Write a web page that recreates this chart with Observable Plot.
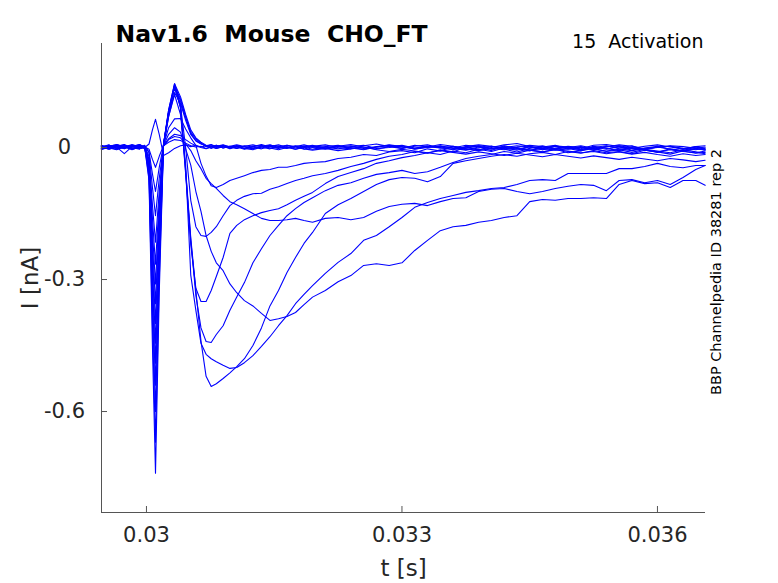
<!DOCTYPE html>
<html><head><meta charset="utf-8">
<script src="https://cdn.jsdelivr.net/npm/d3@7"></script>
<script src="https://cdn.jsdelivr.net/npm/@observablehq/plot@0.6"></script>
<style>
body{margin:0;background:#fff;}
svg text{white-space:pre;}
</style>
</head><body><div id="chart"></div>
<script>
const title = "Nav1.6  Mouse  CHO_FT";
const subtitle = "15  Activation";
const sideNote = "BBP Channelpedia ID 38281 rep 2";
const xLabel = "t [s]";
const yLabel = "I [nA]";
const xTicks = [0.03, 0.033, 0.036];
const xTickLabels = ["0.03", "0.033", "0.036"];
const yTicks = [0, -0.3, -0.6];
const yTickLabels = ["0", "-0.3", "-0.6"];
const xDomain = [0.029472, 0.036564];
const yDomain = [-0.8295, 0.2364];

// sample times in ms
const timeMs = [
29.47,29.56,29.65,29.74,29.83,29.92,29.98,
30.03,30.07,30.106,30.15,30.2,30.26,30.33,30.4,30.46,30.52,30.58,30.64,30.7,30.76,30.82,30.9,30.98,
31.06,31.15,31.25,31.35,31.45,31.55,31.65,31.75,31.85,31.95,
32.1,32.25,32.4,32.55,32.7,32.85,33.0,33.15,33.3,33.45,33.6,33.75,33.9,34.05,34.2,34.35,34.5,34.65,34.8,34.95,35.1,35.25,35.4,35.55,35.7,35.85,36.0,36.15,36.3,36.45,36.56
];

// currents in nA, one list per sweep
const sweep01 = [0.004,-0.002,0.006,0.001,-0.004,0.003,0.000,
0.008,0.04,0.064,0.03,-0.018,-0.012,-0.002,0.004,0.006,0.002,0.005,0.001,0.004,-0.002,0.003,0.006,0.001,
0.004,-0.003,0.002,0.007,0.001,-0.002,0.005,0.002,-0.004,0.003,
0.006,0.000,-0.003,0.004,0.008,0.002,-0.002,0.005,0.001,0.007,0.003,-0.002,0.004,0.000,0.006,0.009,0.002,-0.001,0.004,0.001,-0.003,0.005,0.007,0.002,-0.002,0.003,0.006,0.001,-0.003,0.002,0.004];
const sweep02 = [-0.003,0.005,0.001,-0.014,0.002,0.006,0.001,
-0.004,-0.027,-0.045,-0.02,0.004,0.012,0.018,0.016,0.01,0.004,0.001,0.003,-0.002,0.002,0.005,-0.001,0.003,
-0.002,0.004,0.001,-0.003,0.002,0.006,0.000,-0.004,0.002,0.005,
-0.001,0.003,0.007,0.001,-0.004,0.002,0.005,-0.001,0.003,0.000,-0.005,0.002,0.006,0.003,-0.002,0.001,0.005,0.002,-0.003,0.000,0.004,-0.002,0.001,0.006,0.003,-0.003,0.000,0.004,0.002,-0.002,0.001];
const sweep03 = [0.002,-0.004,0.003,0.007,-0.001,-0.003,0.002,
-0.01,-0.06,-0.1,-0.045,0.005,0.02,0.03,0.027,0.018,0.01,0.004,0.000,-0.003,0.001,-0.002,0.002,-0.001,
0.003,-0.002,-0.005,0.001,0.004,-0.001,0.002,-0.004,0.000,0.003,
0.001,-0.003,0.002,0.005,-0.002,0.000,0.004,-0.004,0.001,0.003,-0.001,0.005,0.002,-0.003,0.000,0.004,0.001,-0.005,-0.001,0.003,0.000,-0.004,0.002,0.004,-0.001,-0.004,0.001,0.003,-0.002,-0.005,-0.001];
const sweep04 = [0.001,0.006,-0.002,0.003,-0.005,0.002,0.004,
-0.012,-0.09,-0.155,-0.07,0.003,0.018,0.025,0.022,0.008,-0.007,-0.03,-0.048,-0.07,-0.082,-0.093,-0.109,-0.123,
-0.13,-0.139,-0.15,-0.161,-0.166,-0.166,-0.164,-0.161,-0.166,-0.17,
-0.161,-0.159,-0.164,-0.159,-0.145,-0.134,-0.129,-0.127,-0.132,-0.123,-0.116,-0.114,-0.1,-0.095,-0.093,-0.1,-0.105,-0.1,-0.093,-0.088,-0.084,-0.086,-0.098,-0.075,-0.073,-0.08,-0.075,-0.084,-0.068,-0.05,-0.041];
const sweep05 = [-0.004,0.002,0.005,-0.001,0.004,-0.003,0.001,
-0.02,-0.13,-0.215,-0.1,0.004,0.03,0.045,0.035,-0.003,-0.04,-0.1,-0.145,-0.2,-0.236,-0.262,-0.28,-0.31,
-0.33,-0.348,-0.36,-0.377,-0.393,-0.389,-0.384,-0.375,-0.357,-0.34,
-0.325,-0.305,-0.291,-0.268,-0.264,-0.268,-0.262,-0.234,-0.211,-0.189,-0.18,-0.177,-0.17,-0.166,-0.159,-0.155,-0.123,-0.118,-0.12,-0.116,-0.116,-0.114,-0.116,-0.084,-0.075,-0.082,-0.08,-0.091,-0.075,-0.075,-0.086];
const sweep06 = [0.003,-0.001,-0.005,0.002,0.006,0.001,-0.002,
-0.026,-0.16,-0.265,-0.12,0.005,0.07,0.12,0.075,-0.04,-0.29,-0.37,-0.445,-0.47,-0.48,-0.487,-0.495,-0.502,
-0.5,-0.489,-0.473,-0.452,-0.43,-0.405,-0.382,-0.355,-0.334,-0.314,
-0.286,-0.261,-0.241,-0.211,-0.2,-0.18,-0.159,-0.136,-0.125,-0.116,-0.109,-0.102,-0.098,-0.093,-0.091,-0.084,-0.075,-0.073,-0.075,-0.059,-0.059,-0.059,-0.059,-0.048,-0.048,-0.043,-0.036,-0.043,-0.046,-0.041,-0.041];
const sweep07 = [-0.002,0.004,0.001,-0.003,0.005,-0.001,0.003,
-0.03,-0.19,-0.31,-0.14,0.008,0.085,0.145,0.095,-0.05,-0.205,-0.325,-0.44,-0.52,-0.543,-0.537,-0.525,-0.512,
-0.498,-0.48,-0.45,-0.41,-0.36,-0.325,-0.284,-0.25,-0.218,-0.193,
-0.15,-0.13,-0.116,-0.1,-0.084,-0.073,-0.068,-0.07,-0.078,-0.066,-0.036,-0.03,-0.025,-0.02,-0.016,-0.02,-0.014,-0.011,-0.016,-0.009,-0.013,-0.007,-0.012,-0.009,-0.014,-0.006,-0.01,-0.015,-0.008,-0.013,-0.011];
const sweep08 = [0.005,0.000,-0.004,0.003,0.001,0.006,-0.002,
-0.035,-0.215,-0.355,-0.16,0.006,0.08,0.14,0.09,-0.055,-0.21,-0.336,-0.41,-0.441,-0.443,-0.425,-0.405,-0.37,
-0.34,-0.307,-0.262,-0.23,-0.2,-0.177,-0.155,-0.139,-0.125,-0.114,
-0.098,-0.086,-0.08,-0.07,-0.061,-0.057,-0.052,-0.059,-0.055,-0.045,-0.034,-0.025,-0.02,-0.016,-0.009,-0.013,-0.006,-0.01,-0.004,-0.012,-0.007,-0.002,-0.009,-0.005,-0.011,-0.004,-0.008,-0.012,-0.005,-0.01,-0.014];
const sweep09 = [-0.001,0.003,0.007,0.002,-0.003,0.004,0.001,
-0.04,-0.24,-0.4,-0.18,0.007,0.08,0.14,0.09,-0.06,-0.22,-0.32,-0.35,-0.35,-0.325,-0.293,-0.25,-0.195,
-0.177,-0.164,-0.155,-0.148,-0.143,-0.139,-0.13,-0.12,-0.111,-0.102,
-0.082,-0.066,-0.057,-0.048,-0.036,-0.03,-0.023,-0.018,-0.012,-0.016,-0.008,-0.012,-0.004,-0.009,-0.001,-0.006,0.002,-0.005,0.003,-0.002,-0.008,0.001,-0.004,0.002,-0.006,-0.001,0.003,-0.004,-0.009,-0.002,-0.006];
const sweep10 = [0.002,-0.004,0.001,0.005,0.000,-0.003,0.003,
-0.045,-0.27,-0.445,-0.2,0.006,0.075,0.135,0.095,0.0,-0.12,-0.18,-0.2,-0.202,-0.193,-0.18,-0.155,-0.132,
-0.12,-0.111,-0.105,-0.104,-0.095,-0.089,-0.082,-0.075,-0.07,-0.064,
-0.059,-0.052,-0.043,-0.036,-0.027,-0.02,-0.016,-0.009,-0.013,-0.005,-0.01,0.001,-0.006,0.003,-0.004,-0.01,-0.002,0.004,-0.003,0.001,-0.005,0.003,-0.002,-0.007,0.000,-0.005,-0.011,-0.003,-0.007,0.001,-0.004];
const sweep11 = [-0.003,0.002,0.004,-0.001,0.006,0.002,-0.002,
-0.05,-0.3,-0.49,-0.22,0.005,0.045,0.065,0.066,0.042,0.022,0.005,-0.036,-0.065,-0.087,-0.091,-0.084,-0.075,
-0.07,-0.064,-0.057,-0.052,-0.05,-0.045,-0.045,-0.041,-0.036,-0.034,
-0.032,-0.025,-0.022,-0.016,-0.018,-0.01,-0.007,-0.012,-0.003,-0.008,0.002,-0.005,0.001,-0.007,0.004,-0.002,-0.008,0.001,0.005,-0.004,0.002,-0.006,0.003,-0.001,0.004,-0.005,0.001,0.003,-0.004,0.002,-0.003];
const sweep12 = [0.004,-0.002,0.002,0.006,-0.004,0.000,0.005,
-0.055,-0.33,-0.54,-0.24,0.004,0.07,0.125,0.1,0.062,0.03,0.015,0.008,0.004,0.007,0.002,0.005,-0.001,
0.004,0.001,-0.003,0.003,0.006,0.000,-0.002,0.004,0.001,-0.004,
0.002,0.005,-0.001,-0.005,0.001,0.004,-0.002,0.003,0.006,-0.001,-0.004,0.001,0.003,-0.003,0.002,0.000,-0.006,-0.002,0.003,-0.001,-0.005,0.000,0.004,-0.003,-0.007,-0.002,0.001,-0.004,-0.008,-0.003,-0.005];
const sweep13 = [-0.005,0.001,0.004,-0.002,0.003,0.007,0.000,
-0.06,-0.36,-0.6,-0.27,0.005,0.08,0.14,0.11,0.07,0.035,0.02,0.01,0.003,0.006,0.000,0.004,0.002,
-0.002,0.003,0.006,0.001,-0.003,0.002,0.005,-0.001,0.003,0.000,
-0.004,0.002,0.004,-0.002,0.001,0.006,0.002,-0.003,0.000,0.004,-0.002,-0.006,-0.001,0.003,0.000,-0.004,0.002,-0.002,-0.006,-0.003,0.001,-0.004,-0.008,-0.004,-0.001,-0.006,-0.01,-0.005,-0.009,-0.012,-0.008];
const sweep14 = [0.001,0.005,-0.003,0.000,0.004,-0.002,0.002,
-0.07,-0.4,-0.67,-0.3,0.006,0.085,0.145,0.115,0.075,0.04,0.022,0.012,0.005,0.001,0.005,-0.001,0.003,
0.006,0.002,-0.002,0.001,0.005,0.003,-0.001,0.002,0.006,0.001,
-0.002,0.003,0.000,-0.004,0.002,0.005,0.001,-0.002,0.002,-0.001,0.003,-0.003,-0.007,-0.002,-0.005,-0.001,-0.006,-0.01,-0.005,-0.008,-0.012,-0.009,-0.014,-0.01,-0.015,-0.011,-0.016,-0.02,-0.014,-0.018,-0.016];
const sweep15 = [-0.002,0.003,0.006,0.001,-0.003,0.004,-0.001,
-0.075,-0.45,-0.74,-0.33,0.004,0.08,0.14,0.105,0.068,0.032,0.016,0.009,0.002,0.004,-0.002,0.003,-0.003,
0.001,-0.004,0.002,0.005,-0.001,-0.005,0.000,0.003,-0.003,-0.006,
-0.002,-0.007,-0.003,0.001,-0.005,-0.009,-0.004,-0.008,-0.012,-0.007,-0.011,-0.015,-0.01,-0.014,-0.018,-0.013,-0.017,-0.021,-0.016,-0.02,-0.024,-0.019,-0.023,-0.027,-0.022,-0.026,-0.03,-0.025,-0.028,-0.032,-0.029];

const sweeps = [sweep01,sweep02,sweep03,sweep04,sweep05,sweep06,sweep07,sweep08,sweep09,sweep10,sweep11,sweep12,sweep13,sweep14,sweep15];

const rows = [];
sweeps.forEach((vals, k) => {
  const n = Math.min(vals.length, timeMs.length);
  if (vals.length !== timeMs.length) console.warn("sweep", k + 1, "length", vals.length);
  for (let i = 0; i < n; i++) rows.push({sweep: k + 1, t: timeMs[i] / 1000, I: vals[i]});
});

const W = 778, H = 583, mL = 101, mR = 73, mT = 43, mB = 71;
const frameW = W - mL - mR, frameH = H - mT - mB;
const axisColor = "#555555";
const textColor = "#262626";

const chart = Plot.plot({
  width: W, height: H,
  marginLeft: mL, marginRight: mR, marginTop: mT, marginBottom: mB,
  style: {fontFamily: "DejaVu Sans", fontSize: "21px", color: textColor, background: "#fff", overflow: "visible"},
  x: {domain: xDomain},
  y: {domain: yDomain, axis: null},
  marks: [
    Plot.line(rows, {x: "t", y: "I", z: "sweep", stroke: "#0000ff", strokeWidth: 1.1}),
    Plot.ruleX([xDomain[0]], {stroke: axisColor, strokeWidth: 1}),
    Plot.ruleY([yDomain[0]], {stroke: axisColor, strokeWidth: 1}),
    Plot.ruleX(xTicks, {stroke: axisColor, strokeWidth: 1, insetTop: frameH - 6}),
    Plot.ruleY(yTicks, {stroke: axisColor, strokeWidth: 1, insetRight: frameW - 6}),
    Plot.axisX(xTicks, {tickSize: 0, tickPadding: 15, fontSize: 21, fill: textColor, label: null,
      tickFormat: d => xTickLabels[xTicks.indexOf(d)]}),
    Plot.text(yTicks, {y: d => d, frameAnchor: "left", dx: -37, textAnchor: "middle", lineAnchor: "middle",
      text: d => yTickLabels[yTicks.indexOf(d)], fontSize: 21, fill: textColor}),
    Plot.text([title], {frameAnchor: "top-left", dx: 14, dy: -9, textAnchor: "start", lineAnchor: "middle",
      fontSize: 23.5, fontWeight: "bold", fill: "#000"}),
    Plot.text([subtitle], {frameAnchor: "top-right", dx: -2, dy: -2, textAnchor: "end", lineAnchor: "middle",
      fontSize: 19, fill: "#000"}),
    Plot.text([xLabel], {frameAnchor: "bottom", dy: 56, textAnchor: "middle", lineAnchor: "middle",
      fontSize: 23, fill: textColor}),
    Plot.text([yLabel], {frameAnchor: "left", dx: -71, rotate: -90, textAnchor: "middle", lineAnchor: "middle",
      fontSize: 23, fill: textColor}),
    Plot.text([sideNote], {frameAnchor: "right", dx: 11, dy: -6, rotate: -90, textAnchor: "middle", lineAnchor: "middle",
      fontSize: 14.5, fill: "#000"})
  ]
});
document.getElementById("chart").appendChild(chart);
</script>
</body></html>
